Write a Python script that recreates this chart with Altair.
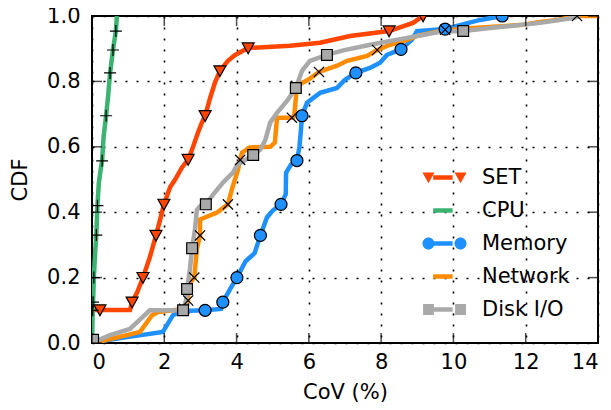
import altair as alt
import pandas as pd

series_names = ["SET", "CPU", "Memory", "Network", "Disk I/O"]
line_colors = ["#FF4500", "#3CB371", "#1E90FF", "#FF8C00", "#A9A9A9"]
marker_fills = ["#FF4500", "transparent", "#1E90FF", "transparent", "#A9A9A9"]

x_ticks = [0, 2, 4, 6, 8, 10, 12, 14]
y_ticks = [0.0, 0.2, 0.4, 0.6, 0.8, 1.0]

# ---- curves (CoV %, CDF) ----
set_x = [0, 0.22, 1.05, 1.11, 1.25, 1.41, 1.60, 1.77, 1.88, 1.99, 2.16, 2.30, 2.49, 2.66, 2.79,
         2.93, 3.04, 3.13, 3.27, 3.40, 3.54, 3.76, 3.96, 4.32, 5.48, 6.31, 7.14, 8.22, 8.88, 9.16]
set_y = [0.101, 0.101, 0.101, 0.125, 0.155, 0.20, 0.262, 0.329, 0.375, 0.424, 0.476, 0.50, 0.537,
         0.561, 0.598, 0.643, 0.674, 0.695, 0.75, 0.796, 0.832, 0.863, 0.881, 0.902, 0.909, 0.918,
         0.939, 0.954, 0.979, 1.0]

cpu_x = [0.0, 0.02, 0.03, 0.05, 0.06, 0.09, 0.12, 0.15, 0.19, 0.24, 0.28, 0.32, 0.39, 0.45, 0.50,
         0.58, 0.66, 0.69]
cpu_y = [0.0, 0.10, 0.125, 0.20, 0.22, 0.28, 0.33, 0.42, 0.49, 0.53, 0.557, 0.63, 0.695, 0.76,
         0.826, 0.896, 0.954, 1.0]

mem_x = [0.08, 0.97, 1.96, 2.24, 2.52, 3.13, 3.57, 3.62, 3.82, 4.01, 4.25, 4.50, 4.66, 4.84, 5.0,
         5.23, 5.36, 5.37, 5.50, 5.67, 5.74, 5.78, 5.81, 5.95, 6.31, 6.78, 7.0, 7.3, 7.69, 7.97,
         8.16, 8.55, 8.85, 8.99, 9.77, 10.1, 10.74, 11.35]
mem_y = [0.003, 0.018, 0.034, 0.085, 0.098, 0.100, 0.104, 0.125, 0.165, 0.20, 0.25, 0.275, 0.329,
         0.384, 0.405, 0.424, 0.455, 0.521, 0.545, 0.558, 0.60, 0.65, 0.695, 0.735, 0.765, 0.78,
         0.805, 0.826, 0.841, 0.857, 0.881, 0.898, 0.927, 0.954, 0.96, 0.97, 0.988, 1.0]

net_x = [0.14, 0.97, 1.33, 1.66, 1.83, 2.24, 2.55, 2.66, 2.66, 2.83, 2.90, 2.99, 2.99, 3.46, 3.76,
         3.87, 4.04, 4.10, 4.15, 4.37, 4.93, 5.06, 5.12, 5.56, 5.60, 5.67, 5.98, 6.28, 6.78, 7.06,
         7.61, 7.89, 8.25, 8.72, 8.99, 9.63, 9.9, 10.54, 11.93, 12.4, 12.87, 13.42, 14.0]
net_y = [0.003, 0.024, 0.034, 0.085, 0.095, 0.100, 0.105, 0.13, 0.177, 0.20, 0.287, 0.329, 0.378,
         0.399, 0.424, 0.47, 0.53, 0.56, 0.582, 0.598, 0.60, 0.613, 0.689, 0.689, 0.70, 0.787,
         0.805, 0.829, 0.848, 0.863, 0.878, 0.896, 0.912, 0.927, 0.939, 0.954, 0.957, 0.963,
         0.973, 0.982, 0.988, 1.0, 1.0]

disk_x = [0.0, 0.5, 1.05, 1.6, 2.16, 2.52, 2.60, 2.63, 2.71, 2.77, 2.85, 2.90, 3.0, 3.15, 3.35,
          3.62, 3.90, 4.01, 4.46, 4.65, 4.79, 4.93, 5.12, 5.40, 5.64, 5.81, 6.03, 6.5, 6.95, 7.7,
          8.72, 9.63, 10.27, 11.01, 12.4, 13.3, 13.5]
disk_y = [0.0, 0.024, 0.043, 0.10, 0.10, 0.10, 0.13, 0.165, 0.226, 0.29, 0.348, 0.406, 0.42,
          0.424, 0.454, 0.49, 0.521, 0.543, 0.575, 0.591, 0.619, 0.674, 0.704, 0.741, 0.78, 0.832,
          0.863, 0.881, 0.895, 0.912, 0.933, 0.952, 0.954, 0.963, 0.979, 0.994, 1.0]

# ---- marker positions ----
set_mx = [0.22, 1.11, 1.41, 1.77, 1.99, 2.66, 3.13, 3.54, 4.32, 8.22, 9.16]
set_my = [0.101, 0.125, 0.20, 0.329, 0.424, 0.561, 0.695, 0.832, 0.902, 0.954, 1.0]
cpu_mx = [0.02, 0.03, 0.05, 0.12, 0.15, 0.28, 0.39, 0.50, 0.58, 0.66]
cpu_my = [0.10, 0.125, 0.20, 0.33, 0.42, 0.557, 0.695, 0.826, 0.896, 0.954]
mem_mx = [3.13, 3.62, 4.01, 4.66, 5.23, 5.67, 5.81, 7.3, 8.55, 9.77, 11.35]
mem_my = [0.100, 0.125, 0.20, 0.329, 0.424, 0.558, 0.695, 0.826, 0.898, 0.96, 1.0]
net_mx = [2.55, 2.66, 2.83, 2.99, 3.76, 4.10, 5.53, 6.28, 7.89, 9.77, 13.42]
net_my = [0.105, 0.13, 0.20, 0.329, 0.424, 0.56, 0.689, 0.829, 0.896, 0.958, 1.0]
disk_mx = [0.03, 2.52, 2.63, 2.77, 3.15, 4.46, 5.64, 6.5, 10.27]
disk_my = [0.01, 0.10, 0.165, 0.29, 0.424, 0.575, 0.78, 0.881, 0.954]

curves = [(set_x, set_y), (cpu_x, cpu_y), (mem_x, mem_y), (net_x, net_y), (disk_x, disk_y)]
marks = [(set_mx, set_my), (cpu_mx, cpu_my), (mem_mx, mem_my), (net_mx, net_my), (disk_mx, disk_my)]

line_rows = []
for name, (xs, ys) in zip(series_names, curves):
    for i, (a, b) in enumerate(zip(xs, ys)):
        line_rows.append({"series": name, "line_key": name, "x": a, "y": b, "idx": i})
line_df = pd.DataFrame(line_rows)

mark_rows = []
for name, (xs, ys) in zip(series_names, marks):
    for a, b in zip(xs, ys):
        mark_rows.append({"series": name, "legend_key": name, "x": a, "y": b})
mark_df = pd.DataFrame(mark_rows)

xtick_df = pd.DataFrame({"x": x_ticks})
ytick_df = pd.DataFrame({"y": y_ticks})

# ---- marker shapes (unit box -1..1) ----
def tri(c):
    return f"M{c-1:.2f},-0.85L{c+1:.2f},-0.85L{c:.2f},0.95Z"

def circ(c):
    r = 1.0
    return f"M{c-r:.2f},0A{r},{r} 0 1,0 {c+r:.2f},0A{r},{r} 0 1,0 {c-r:.2f},0Z"

def plus(c):
    return f"M{c-1:.2f},0L{c+1:.2f},0M{c:.2f},-1L{c:.2f},1"

def xmark(c):
    return f"M{c-0.85:.2f},-0.85L{c+0.85:.2f},0.85M{c-0.85:.2f},0.85L{c+0.85:.2f},-0.85"

def sq(c):
    return f"M{c-0.9:.2f},-0.9L{c+0.9:.2f},-0.9L{c+0.9:.2f},0.9L{c-0.9:.2f},0.9Z"

shape_fns = [tri, plus, circ, xmark, sq]
single_paths = [f(0) for f in shape_fns]
off = 2.67
double_paths = [f(-off) + f(off) for f in shape_fns]
line_off = 1.62

W, H = 506, 327
FONT = "DejaVu Sans"
FS = 21

x_axis = alt.Axis(values=x_ticks, title="CoV (%)", grid=True, ticks=False, domain=False,
                  labelPadding=8, labelFlush=5, titleY=55, titleX=W / 2,
                  titleBaseline="alphabetic")
y_axis = alt.Axis(values=y_ticks, format=".1f", title="CDF", grid=True, ticks=False,
                  domain=False, labelPadding=12, labelFlush=False, titleX=-62, titleY=H / 2)
x_scale = alt.Scale(domain=[0, 14], nice=False, zero=False)
y_scale = alt.Scale(domain=[0, 1], nice=False, zero=False)

LEG_X, LEG_Y = 342, 151
LAB_OFF = 27

lines = alt.Chart(line_df).mark_line(strokeWidth=4.5, clip=True).encode(
    x=alt.X("x:Q", scale=x_scale, axis=x_axis),
    y=alt.Y("y:Q", scale=y_scale, axis=y_axis),
    color=alt.Color("line_key:N", scale=alt.Scale(domain=series_names, range=line_colors),
                    legend=alt.Legend(orient="none", legendX=LEG_X - 1.6, legendY=LEG_Y,
                                      title=None,
                                      symbolType=f"M{-line_off},0L{line_off},0", symbolSize=144,
                                      symbolStrokeWidth=4.5, symbolFillColor="transparent",
                                      labelFontSize=FS, labelExpr="''", rowPadding=11,
                                      labelOffset=LAB_OFF, padding=0, zindex=0)),
    order=alt.Order("idx:Q"),
)

points = alt.Chart(mark_df).mark_point(size=144, stroke="black", strokeWidth=1.2, opacity=1,
                                       clip=True).encode(
    x=alt.X("x:Q", scale=x_scale, axis=x_axis),
    y=alt.Y("y:Q", scale=y_scale, axis=y_axis),
    fill=alt.Fill("series:N", scale=alt.Scale(domain=series_names, range=marker_fills),
                  legend=None),
    shape=alt.Shape("series:N", scale=alt.Scale(domain=series_names, range=single_paths),
                    legend=None),
)

leg_common = dict(orient="none", legendX=LEG_X, legendY=LEG_Y, title=None, symbolSize=144,
                  symbolStrokeColor="black", symbolStrokeWidth=1.2, symbolOpacity=1,
                  labelFontSize=FS, labelFont=FONT, labelColor="black", rowPadding=11,
                  labelOffset=LAB_OFF, padding=0, zindex=1)

legend_marks = alt.Chart(mark_df).mark_point(size=144, opacity=0, stroke="black").encode(
    x=alt.X("x:Q", scale=x_scale, axis=x_axis),
    y=alt.Y("y:Q", scale=y_scale, axis=y_axis),
    fill=alt.Fill("legend_key:N", scale=alt.Scale(domain=series_names, range=marker_fills),
                  legend=alt.Legend(**leg_common)),
    shape=alt.Shape("legend_key:N", scale=alt.Scale(domain=series_names, range=double_paths),
                    legend=alt.Legend(**leg_common)),
)

tick_kw = dict(size=10, thickness=1.5, color="black")
bottom_ticks = alt.Chart(xtick_df).mark_tick(orient="vertical", yOffset=-5, **tick_kw).encode(
    x=alt.X("x:Q", scale=x_scale, axis=x_axis), y=alt.value(H))
top_ticks = alt.Chart(xtick_df).mark_tick(orient="vertical", yOffset=5, **tick_kw).encode(
    x=alt.X("x:Q", scale=x_scale, axis=x_axis), y=alt.value(0))
left_ticks = alt.Chart(ytick_df).mark_tick(orient="horizontal", xOffset=5, **tick_kw).encode(
    y=alt.Y("y:Q", scale=y_scale, axis=y_axis), x=alt.value(0))
right_ticks = alt.Chart(ytick_df).mark_tick(orient="horizontal", xOffset=-5, **tick_kw).encode(
    y=alt.Y("y:Q", scale=y_scale, axis=y_axis), x=alt.value(W))

chart = alt.layer(
    lines, points, legend_marks, bottom_ticks, top_ticks, left_ticks, right_ticks
).resolve_scale(
    fill="independent", shape="independent"
).properties(
    width=W, height=H,
    autosize=alt.AutoSizeParams(type="none"),
    padding={"left": 84, "top": 8, "right": 5, "bottom": 59},
).configure_axis(
    labelFont=FONT, titleFont=FONT, labelFontSize=FS, titleFontSize=FS,
    labelColor="black", titleColor="black", titleFontWeight="normal",
    gridColor="black", gridDash=[2, 9], gridWidth=1.6, gridOpacity=1,
).configure_view(
    stroke="black", strokeWidth=2
).configure_legend(
    labelFont=FONT
)

chart.save("out.html", embed_options={"renderer": "svg", "actions": False})
